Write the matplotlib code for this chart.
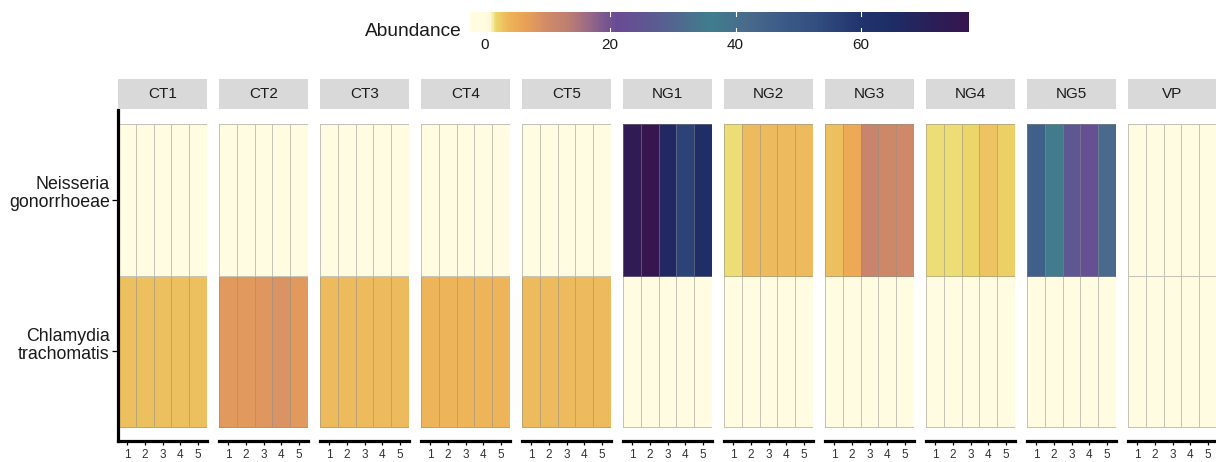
import numpy as np
import matplotlib
matplotlib.use("Agg")
import matplotlib.pyplot as plt
import matplotlib.transforms as mtransforms
from matplotlib.colors import LinearSegmentedColormap, Normalize

plt.rcParams["font.family"] = ["Liberation Sans", "DejaVu Sans"]

# samples and organisms
samples = ["CT1", "CT2", "CT3", "CT4", "CT5", "NG1", "NG2", "NG3", "NG4", "NG5", "VP"]
organisms = ["Chlamydia\ntrachomatis", "Neisseria\ngonorrhoeae"]
replicates = [1, 2, 3, 4, 5]

# abundance per replicate (rows: Chlamydia, Neisseria)
ct1 = [[3.2, 3.2, 3.2, 3.2, 3.2], [0, 0, 0, 0, 0]]
ct2 = [[7.8, 7.8, 8.0, 8.6, 7.9], [0, 0, 0, 0, 0]]
ct3 = [[3.5, 3.5, 3.5, 3.5, 3.5], [0, 0, 0, 0, 0]]
ct4 = [[4.2, 4.2, 4.2, 4.2, 4.2], [0, 0, 0, 0, 0]]
ct5 = [[3.4, 3.4, 3.4, 3.4, 3.4], [0, 0, 0, 0, 0]]
ng1 = [[0, 0, 0, 0, 0], [74, 77, 67, 56, 64]]
ng2 = [[0, 0, 0, 0, 0], [1.5, 3.6, 3.6, 3.5, 3.6]]
ng3 = [[0, 0, 0, 0, 0], [3.2, 5.2, 11.5, 10.5, 10.3]]
ng4 = [[0, 0, 0, 0, 0], [1.7, 1.7, 1.8, 2.9, 2.3]]
ng5 = [[0, 0, 0, 0, 0], [46, 37, 26, 23, 42]]
vp = [[0, 0, 0, 0, 0], [0, 0, 0, 0, 0]]
panels = [ct1, ct2, ct3, ct4, ct5, ng1, ng2, ng3, ng4, ng5, vp]

# colour ramp (value, colour)
vmin, vmax = -2.3, 77.2
stops = [
    (-2.3, "#FFFCE1"), (0.0, "#FFFCE1"), (0.8, "#FEF7D6"), (1.2, "#F6E6A0"),
    (1.5, "#EBDB6C"), (2.5, "#EDC762"), (3.5, "#EDB85C"), (5.0, "#EEAA55"),
    (7.0, "#E69D5A"), (10.0, "#D08A68"), (13.0, "#BF8070"), (16.0, "#A06C84"),
    (19.0, "#7A5890"), (21.0, "#6A4A95"), (28.0, "#5A5E91"), (36.0, "#3F7E8C"),
    (42.0, "#4A6A8D"), (47.0, "#3D5C88"), (53.0, "#334E80"), (60.0, "#22346D"),
    (65.0, "#1E2D66"), (72.0, "#2C1E58"), (77.2, "#37164F"),
]
cmap = LinearSegmentedColormap.from_list(
    "abund", [((v - vmin) / (vmax - vmin), c) for v, c in stops])
norm = Normalize(vmin, vmax)

W, H = 1216, 462
fig = plt.figure(figsize=(W / 100, H / 100), dpi=100)


def box(x0, y0, x1, y1):
    return [x0 / W, 1 - y1 / H, (x1 - x0) / W, (y1 - y0) / H]


x_edges = np.arange(0.5, 6.0, 1.0)
y_edges = np.arange(0.5, 3.0, 1.0)

for i, (name, vals) in enumerate(zip(samples, panels)):
    left = 118 + i * 101
    ax = fig.add_axes(box(left, 110, left + 89, 441))
    ax.pcolormesh(x_edges, y_edges, np.array(vals, dtype=float), cmap=cmap, norm=norm,
                  edgecolors=(0.55, 0.55, 0.55, 0.5), linewidth=0.6)
    ax.set_xlim(0.5, 5.5)
    ax.set_ylim(0.41, 2.59)
    ax.spines["top"].set_visible(False)
    ax.spines["right"].set_visible(False)
    ax.spines["bottom"].set_linewidth(2.3)
    ax.spines["left"].set_linewidth(2.3)
    ax.set_xticks(replicates)
    ax.tick_params(axis="x", length=3, width=0.9, pad=3, labelsize=8.5,
                   labelcolor="#333333")
    if i == 0:
        ax.set_yticks([1, 2])
        ax.set_yticklabels(organisms, fontsize=12.8, color="#1A1A1A",
                           linespacing=1.1)
        ax.tick_params(axis="y", length=4, width=0.9, pad=2)
        # second line of each label sits level with its tick
        shift = mtransforms.ScaledTranslation(0, 8.5 / 100, fig.dpi_scale_trans)
        for lab in ax.get_yticklabels():
            lab.set_transform(lab.get_transform() + shift)
    else:
        ax.spines["left"].set_visible(False)
        ax.set_yticks([])

    # facet strip
    sax = fig.add_axes(box(left, 79, left + 89, 109))
    sax.set_facecolor("#D9D9D9")
    for s in sax.spines.values():
        s.set_visible(False)
    sax.set_xticks([])
    sax.set_yticks([])
    sax.text(0.5, 0.5, name, ha="center", va="center", fontsize=11,
             color="#1A1A1A", transform=sax.transAxes)

# colour bar legend
cax = fig.add_axes(box(470, 12, 969, 32))
grad = np.linspace(vmin, vmax, 600)[np.newaxis, :]
cax.imshow(grad, aspect="auto", cmap=cmap, norm=norm,
           extent=[vmin, vmax, 0, 1], interpolation="bilinear")
cax.set_xlim(vmin, vmax)
cax.set_ylim(0, 1)
for s in cax.spines.values():
    s.set_visible(False)
cax.set_yticks([])
cbar_ticks = [0, 20, 40, 60]
for t in cbar_ticks[1:]:
    cax.plot([t, t], [0, 0.2], color="white", lw=0.8)
    cax.plot([t, t], [0.8, 1], color="white", lw=0.8)
cax.set_xticks(cbar_ticks)
cax.set_xticklabels([str(t) for t in cbar_ticks])
cax.tick_params(axis="x", length=0, pad=4, labelsize=11, labelcolor="#1A1A1A")
fig.text(462 / W, 1 - 31 / H, "Abundance", ha="right", va="center",
         fontsize=13.8, color="#1A1A1A")

fig.savefig("out.png", dpi=100)
